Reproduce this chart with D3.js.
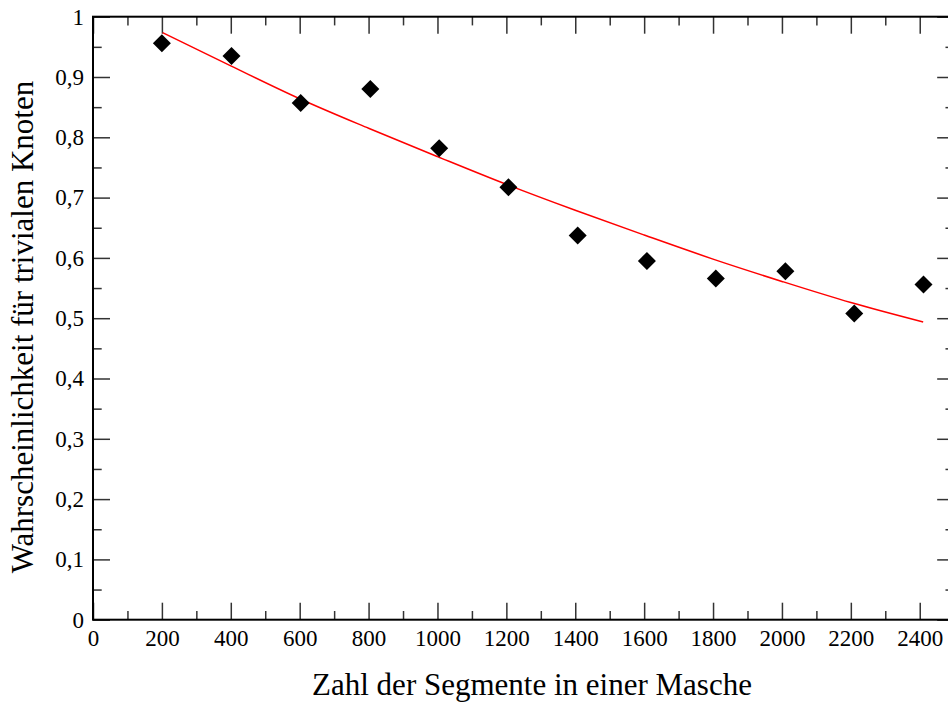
<!DOCTYPE html>
<html>
<head>
<meta charset="utf-8">
<script src="https://cdn.jsdelivr.net/npm/d3@7"></script>
<style>
  html, body { margin: 0; padding: 0; background: #fff; overflow: hidden; }
  svg { display: block; }
  text { font-family: "Liberation Serif", "Times New Roman", serif; fill: #000; }
</style>
</head>
<body>
<svg id="chart" width="948" height="702"></svg>
<script>
// ---- Data ----
const segments = [200, 402, 603, 805, 1005, 1206, 1407, 1608, 1808, 2010, 2210, 2411];
const probability = [0.956, 0.935, 0.857, 0.880, 0.782, 0.717, 0.637, 0.595, 0.566, 0.578, 0.508, 0.556];
// fit curve points
const fitX = [202, 400, 600, 800, 1000, 1200, 1400, 1600, 1800, 2000, 2200, 2410];
const fitY = [0.9735, 0.9185, 0.864, 0.815, 0.768, 0.722, 0.679, 0.638, 0.598, 0.561, 0.526, 0.4937];
const xMajorTicks = [0, 200, 400, 600, 800, 1000, 1200, 1400, 1600, 1800, 2000, 2200, 2400];
const yMajorTicks = [0, 0.1, 0.2, 0.3, 0.4, 0.5, 0.6, 0.7, 0.8, 0.9, 1];
const xTitle = "Zahl der Segmente in einer Masche";
const yTitle = "Wahrscheinlichkeit für trivialen Knoten";

(function () {
// ---- Layout ----
const svg = d3.select("#chart");
const mLeft = 93, mTop = 16.7, mBottom = 619.7;
const x = d3.scaleLinear().domain([0, 2500]).range([mLeft, mLeft + 2500 * 0.34447]);
const y = d3.scaleLinear().domain([0, 1]).range([mBottom, mTop]);
const mRight = x(2500);

const xMinor = d3.range(100, 2500, 200);
const yMinor = d3.range(0.05, 1, 0.1);
const majorLen = 17, minorLen = 8.7;
const fmt = d => d === 0 ? "0" : d === 1 ? "1" : d3.format(".1f")(d).replace(".", ",");

function axis(gen, tr) {
  const a = svg.append("g").attr("transform", tr).call(gen);
  a.attr("font-family", null);
  a.select(".domain").remove();
  a.selectAll(".tick line").attr("stroke", "#333").attr("stroke-width", 1.5);
  a.selectAll("text").attr("font-size", 23);
  return a;
}
// bottom
axis(d3.axisBottom(x).tickValues(xMajorTicks).tickSize(-majorLen).tickPadding(10).tickFormat(d3.format("d")), `translate(0,${mBottom})`);
axis(d3.axisBottom(x).tickValues(xMinor).tickSize(-minorLen).tickFormat(""), `translate(0,${mBottom})`);
// top
axis(d3.axisTop(x).tickValues(xMajorTicks).tickSize(-majorLen).tickFormat(""), `translate(0,${mTop})`);
axis(d3.axisTop(x).tickValues(xMinor).tickSize(-minorLen).tickFormat(""), `translate(0,${mTop})`);
// left
axis(d3.axisLeft(y).tickValues(yMajorTicks).tickSize(-majorLen).tickPadding(9).tickFormat(fmt), `translate(${mLeft},0)`);
axis(d3.axisLeft(y).tickValues(yMinor).tickSize(-minorLen).tickFormat(""), `translate(${mLeft},0)`);
// right
axis(d3.axisRight(y).tickValues(yMajorTicks).tickSize(-majorLen).tickFormat(""), `translate(${mRight},0)`);
axis(d3.axisRight(y).tickValues(yMinor).tickSize(-minorLen).tickFormat(""), `translate(${mRight},0)`);

// frame
svg.append("rect")
  .attr("x", mLeft).attr("y", mTop)
  .attr("width", mRight - mLeft).attr("height", mBottom - mTop)
  .attr("fill", "none").attr("stroke", "#000").attr("stroke-width", 2);

// fit line
const line = d3.line().x((d, i) => x(fitX[i])).y((d, i) => y(fitY[i])).curve(d3.curveMonotoneX);
svg.append("path").datum(fitX).attr("d", line)
  .attr("fill", "none").attr("stroke", "#ff0000").attr("stroke-width", 1.5);

// diamonds
const sym = d3.symbol().type(d3.symbolSquare).size(162);
svg.append("g").selectAll("path").data(segments).join("path")
  .attr("d", sym)
  .attr("transform", (d, i) => `translate(${x(d)},${y(probability[i])}) rotate(45)`)
  .attr("fill", "#000");

// titles
svg.append("text").attr("x", 532).attr("y", 695).attr("text-anchor", "middle")
  .attr("font-size", 31).text(xTitle);
svg.append("text").attr("transform", `translate(33,327) rotate(-90)`)
  .attr("text-anchor", "middle").attr("font-size", 31).text(yTitle);
})();
</script>
</body>
</html>
